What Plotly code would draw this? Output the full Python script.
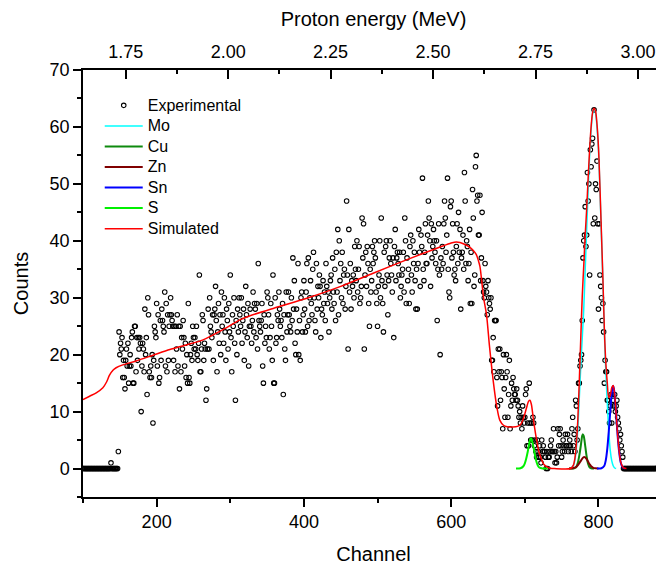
import plotly.graph_objects as go

FONT = "Liberation Sans, Arial, sans-serif"

# ---------------- data ----------------
ch_start = 100
exp_counts = [
    0, 0, 0, 0, 0, 0, 0, 0, 0, 0,
    0, 0, 0, 0, 0, 0, 0, 0, 0, 0,
    0, 0, 0, 0, 0, 0, 0, 0, 0, 0,
    0, 0, 0, 0, 0, 0, 0, 0, 1, 0,
    0, 0, 0, 0, 0, 0, 0, 0, 3, 24,
    20, 22, 21, 23, 16, 19, 16, 14, 19, 21,
    18, 22, 15, 18, 20, 18, 23, 24, 15, 15,
    25, 25, 17, 23, 19, 23, 21, 23, 22, 10,
    18, 22, 21, 17, 28, 20, 23, 13, 30, 27,
    17, 16, 18, 16, 20, 8, 19, 25, 24, 23,
    29, 18, 27, 15, 16, 26, 19, 28, 26, 25,
    24, 31, 18, 29, 17, 27, 19, 25, 27, 30,
    27, 26, 25, 19, 25, 17, 25, 21, 27, 18,
    25, 14, 25, 17, 23, 21, 26, 23, 18, 22,
    16, 20, 15, 29, 16, 15, 20, 22, 19, 25,
    23, 21, 23, 21, 25, 20, 19, 22, 34, 17,
    17, 21, 27, 26, 19, 22, 21, 12, 14, 21,
    28, 21, 30, 25, 24, 23, 27, 19, 27, 28,
    32, 26, 17, 24, 29, 22, 27, 20, 31, 25,
    27, 22, 30, 24, 19, 28, 26, 21, 29, 24,
    34, 23, 17, 27, 25, 30, 22, 12, 26, 20,
    28, 24, 30, 27, 25, 30, 22, 26, 28, 19,
    24, 32, 27, 23, 29, 18, 25, 28, 25, 22,
    26, 31, 24, 29, 28, 23, 29, 21, 36, 26,
    25, 24, 26, 29, 18, 15, 27, 22, 25, 23,
    31, 30, 27, 21, 23, 29, 25, 19, 34, 15,
    15, 30, 22, 23, 27, 26, 31, 28, 25, 26,
    23, 29, 13, 27, 21, 19, 31, 24, 27, 31,
    27, 25, 24, 30, 26, 37, 28, 33, 22, 20,
    28, 24, 36, 20, 26, 19, 30, 31, 24, 27,
    33, 28, 24, 31, 36, 25, 37, 26, 30, 33,
    29, 27, 35, 38, 30, 26, 24, 36, 28, 32,
    30, 34, 32, 23, 28, 27, 33, 29, 31, 26,
    36, 32, 29, 31, 24, 30, 33, 34, 28, 37,
    31, 29, 35, 26, 38, 31, 42, 27, 40, 33,
    36, 30, 38, 29, 34, 35, 28, 32, 47, 34,
    21, 42, 31, 36, 28, 33, 32, 34, 30, 39,
    35, 33, 40, 31, 35, 39, 29, 30, 32, 44,
    37, 43, 21, 34, 38, 32, 39, 36, 29, 25,
    35, 31, 33, 39, 36, 38, 40, 37, 31, 29,
    25, 32, 34, 40, 30, 44, 33, 29, 24, 38,
    32, 39, 40, 34, 27, 33, 37, 40, 36, 34,
    31, 37, 23, 39, 42, 33, 37, 38, 36, 34,
    38, 30, 32, 34, 35, 38, 31, 44, 40, 29,
    37, 33, 35, 29, 39, 41, 34, 31, 40, 36,
    38, 33, 28, 35, 28, 36, 42, 38, 32, 41,
    39, 51, 35, 33, 38, 43, 36, 36, 41, 47,
    44, 40, 32, 43, 37, 39, 42, 40, 38, 36,
    40, 26, 35, 43, 34, 20, 37, 35, 39, 36,
    43, 47, 44, 38, 41, 51, 35, 31, 30, 46,
    47, 37, 43, 38, 34, 35, 33, 39, 43, 36,
    45, 38, 42, 28, 37, 38, 41, 35, 52, 47,
    36, 40, 39, 33, 36, 42, 29, 38, 29, 49,
    44, 32, 34, 53, 55, 47, 48, 41, 41, 48,
    33, 37, 45, 33, 31, 30, 36, 32, 31, 27,
    33, 30, 29, 28, 30, 19, 19, 23, 17, 26,
    26, 26, 16, 11, 21, 17, 21, 12, 17, 16,
    7, 20, 14, 9, 16, 20, 17, 9, 13, 19,
    7, 11, 15, 12, 16, 14, 13, 13, 12, 14,
    12, 11, 9, 10, 8, 9, 7, 11, 9, 8,
    9, 13, 14, 4, 8, 4, 15, 8, 5, 8,
    5, 9, 8, 4, 5, 3, 2, 5, 3, 2,
    4, 2, 1, 5, 3, 4, 3, 3, 2, 0,
    3, 0, 2, 2, 3, 4, 5, 3, 3, 7,
    3, 1, 3, 1, 2, 7, 4, 6, 7, 4,
    2, 3, 5, 4, 3, 6, 4, 4, 6, 3,
    4, 5, 4, 3, 7, 9, 4, 6, 3, 12,
    11, 5, 7, 15, 15, 18, 19, 20, 26, 37,
    40, 41, 46, 39, 41, 52, 47, 50, 34, 56,
    53, 57, 58, 43, 63, 44, 50, 49, 54, 43,
    28, 43, 34, 32, 30, 26, 29, 24, 15, 19,
    17, 17, 12, 12, 10, 8, 11, 13, 8, 13,
    12, 11, 13, 10, 11, 12, 9, 8, 7, 5,
    6, 4, 3, 2, 0, 0, 0, 0, 0, 0,
    0, 0, 0, 0, 0, 0, 0, 0, 0, 0,
    0, 0, 0, 0, 0, 0, 0, 0, 0, 0,
    0, 0, 0, 0, 0, 0, 0, 0, 0, 0,
    0, 0, 0, 0, 0, 0, 0, 0, 0, 0,
    0, 0, 0, 0, 0, 0, 0, 0, 0, 0,
]
channels = list(range(ch_start, ch_start + len(exp_counts)))

sim_ch = [100, 109, 118, 127, 132, 136, 141, 145, 154, 172, 195, 218, 240, 263, 290,
          313, 326, 360, 404, 450, 494, 540, 585, 600, 607, 612, 618, 625, 630, 634,
          637, 639, 641, 644, 648, 652, 657, 662, 666, 671, 676, 684, 690, 694, 697,
          700, 703, 705, 707, 709, 711, 713, 716, 719, 723, 726, 730, 735, 740, 762,
          766, 768, 770, 772, 774, 776, 778, 780, 782, 784, 786, 788, 790, 792, 794,
          796, 798, 800, 802, 804, 806, 808, 810, 812, 814, 816, 818, 820, 822, 824,
          826, 828, 830, 832, 834, 838]
sim_counts = [12.1, 12.7, 13.3, 14.2, 15.2, 16.4, 17.3, 17.7, 18.2, 18.9, 19.9, 20.9, 21.7, 22.6, 24.4,
              26.1, 26.8, 28.2, 29.9, 32.0, 34.3, 36.7, 38.9, 39.6, 39.8, 39.7, 39.4, 38.9, 38.3, 37.6,
              36.5, 35.5, 33.5, 30.0, 27.0, 21.5, 15.5, 10.8, 8.5, 7.6, 7.35, 7.3, 7.4, 7.7, 8.4,
              9.6, 11.0, 11.8, 12.0, 11.2, 9.3, 7.4, 5.0, 3.0, 1.5, 0.7, 0.3, 0.05, 0.0, 0.0,
              0.6, 1.8, 4.2, 8.6, 15.5, 23.0, 30.3, 35.6, 41.0, 45.6, 51.0, 56.0, 60.0, 62.5, 63.3,
              62.8, 60.5, 56.5, 49.5, 41.5, 33.5, 24.5, 18.5, 15.0, 12.5, 12.8, 14.2, 14.6, 13.0, 9.5,
              6.0, 3.2, 1.3, 0.5, 0.1, 0.0]

mo_ch = [762, 766, 768, 770, 772, 774, 776, 778, 780, 782, 784, 786, 788, 790, 792, 794,
         796, 798, 800, 802, 804, 806, 808, 810, 812, 814, 816, 818, 820, 822, 824]
mo_counts = [0.0, 0.5, 1.5, 3.5, 7.0, 12.5, 18.0, 23.0, 28.0, 35.0, 42.0, 49.0, 55.0, 59.5, 62.3, 63.2,
             62.5, 60.0, 56.0, 49.0, 41.0, 33.0, 24.0, 17.0, 11.5, 6.5, 3.2, 1.4, 0.5, 0.1, 0.0]

cu_ch = [760, 766, 768, 770, 772, 774, 776, 777, 778, 779, 780, 781, 782, 784, 786, 788, 790, 794]
cu_counts = [0.0, 0.0, 0.1, 0.3, 1.0, 2.3, 4.0, 5.0, 5.8, 6.0, 5.7, 5.0, 4.0, 2.1, 0.8, 0.2, 0.05, 0.0]

zn_ch = [760, 764, 768, 771, 774, 776, 778, 780, 782, 784, 786, 788, 790, 793, 796, 800]
zn_counts = [0.0, 0.02, 0.15, 0.45, 0.95, 1.35, 1.75, 2.0, 1.95, 1.65, 1.2, 0.75, 0.4, 0.12, 0.03, 0.0]

sn_ch = [798, 804, 808, 810, 812, 814, 816, 818, 819, 820, 821, 822, 824, 826, 828, 830, 832, 834, 836]
sn_counts = [0.0, 0.05, 0.5, 1.5, 3.5, 6.5, 10.0, 13.2, 14.2, 14.5, 14.0, 12.8, 9.5, 5.8, 3.0, 1.2, 0.4, 0.1, 0.0]

s_ch = [688, 694, 698, 700, 702, 704, 706, 707, 708, 709, 710, 712, 714, 716, 718, 720, 724, 731]
s_counts = [0.0, 0.05, 0.4, 0.9, 1.8, 3.0, 4.4, 5.0, 5.3, 5.2, 4.8, 3.6, 2.2, 1.1, 0.45, 0.15, 0.02, 0.0]

x_range = [100, 889]
y_range = [-5, 70]
x_major = [200, 400, 600, 800]
x_minor = [100, 300, 500, 700]
y_major = [0, 10, 20, 30, 40, 50, 60, 70]
y_minor = [-5, 5, 15, 25, 35, 45, 55, 65]
energy_range = [1.6458, 3.0635]
energy_major = [1.75, 2.00, 2.25, 2.50, 2.75, 3.00]
energy_labels = ["1.75", "2.00", "2.25", "2.50", "2.75", "3.00"]
energy_minor = [1.875, 2.125, 2.375, 2.625, 2.875]
right_ticks = [10, 25, 40, 55]


def legend_name(s):
    return '<span style="font-size:16px">' + s + '</span>'


# ---------------- figure ----------------
fig = go.Figure()

fig.add_trace(go.Scatter(
    x=channels, y=exp_counts, mode="markers", name=legend_name("Experimental"),
    marker=dict(symbol="circle-open", size=4.5, color="black", line=dict(width=1.1, color="black")),
))
components = [
    ("Mo", mo_ch, mo_counts, "#00FFFF", 1.5),
    ("Cu", cu_ch, cu_counts, "#0E8A0E", 2),
    ("Zn", zn_ch, zn_counts, "#800000", 2),
    ("Sn", sn_ch, sn_counts, "#0000FF", 2),
    ("S", s_ch, s_counts, "#00F000", 2),
    ("Simulated", sim_ch, sim_counts, "#FF0000", 1.5),
]
for name, xs, ys, col, w in components:
    fig.add_trace(go.Scatter(
        x=xs, y=ys, mode="lines", name=legend_name(name),
        line=dict(color=col, width=w, shape="spline", smoothing=0.8),
    ))

# helper traces so the secondary axes are drawn
fig.add_trace(go.Scatter(x=[energy_major[0]], y=[0], xaxis="x2", yaxis="y", mode="markers",
                         marker=dict(opacity=0), showlegend=False, hoverinfo="skip"))
fig.add_trace(go.Scatter(x=[x_major[0]], y=[0], xaxis="x", yaxis="y2", mode="markers",
                         marker=dict(opacity=0), showlegend=False, hoverinfo="skip"))

axis_common = dict(showgrid=False, zeroline=False, showline=True, linecolor="black", linewidth=1.5,
                   tickcolor="black", tickwidth=1.5, tickfont=dict(size=18, color="black", family=FONT),
                   automargin=False)

fig.update_layout(
    width=656, height=564,
    margin=dict(l=75, r=0, t=62, b=75),
    paper_bgcolor="white", plot_bgcolor="white",
    font=dict(family=FONT, color="black", size=16),
    showlegend=True,
    legend=dict(x=0.0288, xanchor="left", y=0.953, yanchor="top", bgcolor="rgba(0,0,0,0)",
                borderwidth=0, itemwidth=38, font=dict(size=13.5, family=FONT), tracegroupgap=0),
    xaxis=dict(range=x_range, tickmode="array", tickvals=x_major, ticks="outside", ticklen=8,
               minor=dict(tickvals=x_minor, ticks="outside", ticklen=4, tickwidth=1.5, tickcolor="black"),
               title=dict(text="Channel", font=dict(size=20, family=FONT), standoff=16),
               **axis_common),
    yaxis=dict(range=y_range, tickmode="array", tickvals=y_major, ticks="outside", ticklen=8,
               minor=dict(tickvals=y_minor, ticks="outside", ticklen=4, tickwidth=1.5, tickcolor="black"),
               title=dict(text="Counts", font=dict(size=20, family=FONT), standoff=16),
               **axis_common),
    xaxis2=dict(overlaying="x", side="top", anchor="y", range=energy_range, tickmode="array",
                tickvals=energy_major, ticktext=energy_labels, ticks="inside", ticklen=9,
                ticklabelstandoff=3,
                minor=dict(tickvals=energy_minor, ticks="inside", ticklen=4, tickwidth=1.5, tickcolor="black"),
                title=dict(text="Proton energy (MeV)", font=dict(size=20, family=FONT), standoff=11),
                **axis_common),
    yaxis2=dict(overlaying="y", side="right", anchor="x", range=y_range, tickmode="array",
                tickvals=right_ticks, ticks="inside", ticklen=3, tickcolor="#777777", tickwidth=1,
                showticklabels=False, showline=False, showgrid=False, zeroline=False, automargin=False),
)

fig.write_html("out.html")
